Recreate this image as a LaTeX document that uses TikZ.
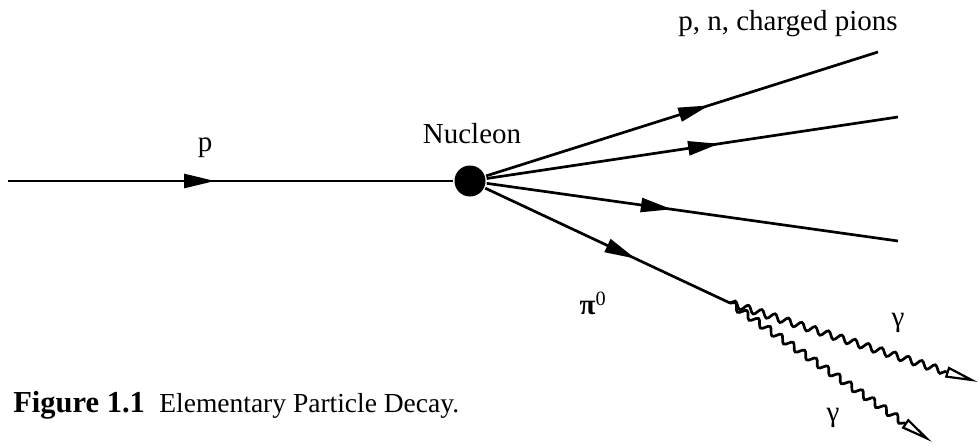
\documentclass[tikz,border=0pt]{standalone}
\usepackage{fontspec}
\setmainfont{Liberation Serif}
\usetikzlibrary{arrows.meta,decorations.markings,decorations.pathmorphing}
\begin{document}
\begin{tikzpicture}[x=1pt,y=-1pt,
  line width=2.7pt,
  lbl/.style={font=\fontsize{29}{32}\selectfont, inner sep=0pt},
  midarrow/.style={postaction={decorate},
    decoration={markings, mark=at position #1 with {\arrow{Triangle[length=31pt,width=14pt]}}}},
  photon/.style={decorate, decoration={snake, amplitude=3.4pt, segment length=14pt, post length=33pt},
    -{Triangle[open,length=33pt,width=11pt,fill=white,line width=2.2pt]}}
]
\useasboundingbox (0,0) rectangle (980,447);
% vertices
\node[circle, fill=black, minimum size=31pt, inner sep=0pt] (nuc) at (470,181) {};
\coordinate (in) at (8,181);
\coordinate (o1) at (878,52);
\coordinate (o2) at (898,117);
\coordinate (o3) at (898,241);
\coordinate (pi) at (730,303);
\coordinate (g1) at (978,382);
\coordinate (g2) at (932,442);
% lines
\draw[midarrow=207pt] (in) -- (nuc);
\draw[midarrow=234pt] (nuc) -- (o1);
\draw[midarrow=235pt] (nuc) -- (o2);
\draw[midarrow=187pt] (nuc) -- (o3);
\draw[midarrow=166pt] (nuc) -- (pi);
\draw[photon] (pi) -- (g1);
\draw[photon] (pi) -- (g2);
% labels
\node[lbl] (lp) at (205,148) {p};
\node[lbl] (lnuc) at (472,134) {Nucleon};
\node[lbl] (lout) at (788,24) {p, n, charged pions};
\node[lbl] (lpi) at (593,303) {\textbf{π}\textsuperscript{0}};
\node[lbl] (lg1) at (898,323) {γ};
\node[lbl] (lg2) at (833,418) {γ};
\node[inner sep=0pt, anchor=base west, font=\fontsize{30.5}{33}\selectfont\bfseries] (capfig) at (12,412) {Figure 1.1};
\node[inner sep=0pt, anchor=base west, font=\fontsize{27.5}{30}\selectfont] (captext) at (158,412) {Elementary Particle Decay.};
\end{tikzpicture}
\end{document}
